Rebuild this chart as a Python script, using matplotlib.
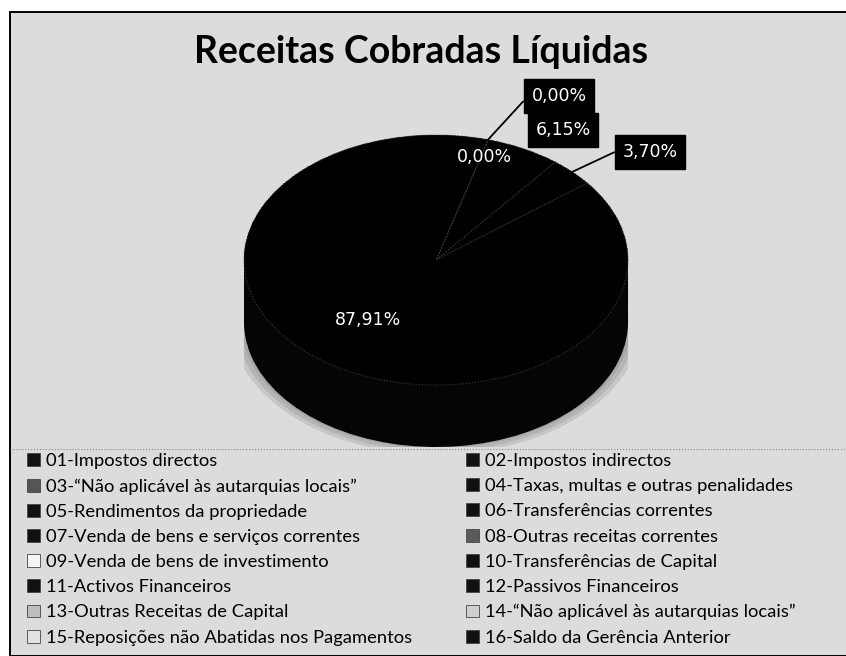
import matplotlib.pyplot as plt
from matplotlib.patches import Patch, Rectangle, Ellipse
import numpy as np

W, H = 846, 656

title = "Receitas Cobradas Líquidas"

# pie values (%), in drawing order
values = [3.70, 6.15, 0.00, 0.00, 87.91]
value_labels = ["3,70%", "6,15%", "0,00%", "0,00%", "87,91%"]

legend_left = [
    "01-Impostos directos",
    "03-“Não aplicável às autarquias locais”",
    "05-Rendimentos da propriedade",
    "07-Venda de bens e serviços correntes",
    "09-Venda de bens de investimento",
    "11-Activos Financeiros",
    "13-Outras Receitas de Capital",
    "15-Reposições não Abatidas nos Pagamentos",
]
legend_right = [
    "02-Impostos indirectos",
    "04-Taxas, multas e outras penalidades",
    "06-Transferências correntes",
    "08-Outras receitas correntes",
    "10-Transferências de Capital",
    "12-Passivos Financeiros",
    "14-“Não aplicável às autarquias locais”",
    "16-Saldo da Gerência Anterior",
]
colors_left = ["#111111", "#555555", "#111111", "#111111", "#f4f4f4", "#111111", "#bdbdbd", "#e2e2e2"]
colors_right = ["#111111", "#111111", "#111111", "#5a5a5a", "#111111", "#111111", "#cfcfcf", "#111111"]


def px(x, y):
    # pixel position (top-left origin) -> figure fraction
    return (x / W, 1 - y / H)


fig = plt.figure(figsize=(W / 100, H / 100), dpi=100, facecolor="white")

# scanned chart area with its frame
bg = Rectangle(px(10, 656), (W - 8) / W, 644 / H, transform=fig.transFigure,
               facecolor="#dcdcdc", edgecolor="black", linewidth=1.4, zorder=-1)
fig.add_artist(bg)

fig.text(*px(421, 52), title, ha="center", va="center", fontsize=27,
         fontweight="bold", family="Lato", color="black")

# pie: top face ellipse center (436,260), half axes 192 x 125, depth ~62 px
ax = fig.add_axes([244 / W, 1 - 447 / H, 384 / W, 312 / H])
ax.set_facecolor("none")
depth = 0.496

for s in [1.07, 1.045, 1.02]:
    ax.add_patch(Ellipse((0, -depth + 0.01), 2 * s, 2 * s, color="#6e6e6e", alpha=0.2, lw=0))

for c in np.linspace(-depth, 0, 14):
    ax.pie(values, radius=1, center=(0, c), startangle=38, counterclock=True,
           colors=["#050505"] * len(values), wedgeprops=dict(linewidth=0))

wedges, _ = ax.pie(values, radius=1, center=(0, 0), startangle=38, counterclock=True,
                   colors=["black"] * len(values),
                   wedgeprops=dict(edgecolor="#3a3a3a", linewidth=0.8, linestyle=":"))
ax.set_aspect("auto")
ax.set_xlim(-1, 1)
ax.set_ylim(-1 - depth, 1)
ax.axis("off")


def edge_point(w):
    t = np.deg2rad((w.theta1 + w.theta2) / 2)
    return (np.cos(t), np.sin(t))


box = dict(boxstyle="square,pad=0.45", fc="black", ec="black")
lab_font = dict(fontsize=12.5, color="white", family="DejaVu Sans", ha="center", va="center")

ax.annotate(value_labels[2], xy=edge_point(wedges[2]), xycoords="data",
            xytext=px(559, 96), textcoords="figure fraction", bbox=box,
            arrowprops=dict(arrowstyle="-", color="black", lw=1.3, relpos=(0, 0.7),
                            shrinkA=0, shrinkB=0), annotation_clip=False, **lab_font)
fig.text(*px(563, 130), value_labels[1], bbox=box, **lab_font)
ax.annotate(value_labels[0], xy=edge_point(wedges[0]), xycoords="data",
            xytext=px(650, 152), textcoords="figure fraction", bbox=box,
            arrowprops=dict(arrowstyle="-", color="black", lw=1.3, relpos=(0, 0.7),
                            shrinkA=0, shrinkB=0), annotation_clip=False, **lab_font)
fig.text(*px(484, 157), value_labels[3], **lab_font)
fig.text(*px(368, 320), value_labels[4], **lab_font)

# dotted separator between plot area and legend
fig.add_artist(plt.Line2D([10 / W, 1], [1 - 449 / H] * 2, transform=fig.transFigure,
                          color="#888888", lw=0.8, ls=":"))

# legend, two columns, row-major as in the original
leg_kw = dict(loc="upper left", frameon=False, handlelength=0.7,
              handleheight=0.7, handletextpad=0.35, labelspacing=0.5,
              prop=dict(family="Lato", size=13.2), borderaxespad=0, borderpad=0)
hl = [Patch(facecolor=c, edgecolor="#444444", linewidth=0.6) for c in colors_left]
hr = [Patch(facecolor=c, edgecolor="#444444", linewidth=0.6) for c in colors_right]
fig.legend(hl, legend_left, bbox_to_anchor=px(27, 453), **leg_kw)
fig.legend(hr, legend_right, bbox_to_anchor=px(466, 453), **leg_kw)

fig.savefig("out.png", dpi=100, facecolor=fig.get_facecolor())
